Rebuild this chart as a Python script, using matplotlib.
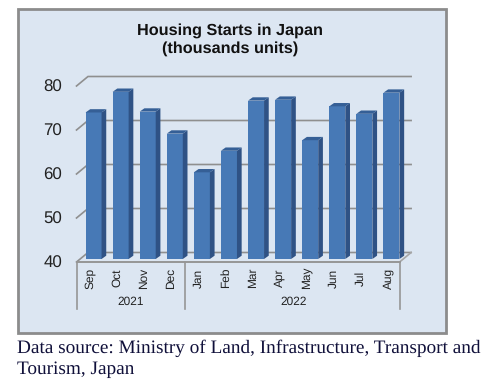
import matplotlib.pyplot as plt
from matplotlib.patches import Rectangle, Polygon

W, H = 493, 382

months = ["Sep", "Oct", "Nov", "Dec", "Jan", "Feb", "Mar", "Apr", "May", "Jun", "Jul", "Aug"]
values = [73.3, 78.0, 73.5, 68.5, 59.7, 64.6, 76.0, 76.2, 67.0, 74.7, 73.0, 77.8]
years = ["2021", "2022"]
year_spans = [(0, 4), (4, 12)]
y_ticks = [40, 50, 60, 70, 80]

plt.rcParams["font.family"] = ["Liberation Sans", "DejaVu Sans"]
plt.rcParams["text.hinting"] = "no_hinting"

fig = plt.figure(figsize=(W / 100, H / 100), dpi=100, facecolor="white")

# panel behind the chart, in pixels of the image
bg = fig.add_axes([0, 0, 1, 1])
bg.set_xlim(0, W)
bg.set_ylim(H, 0)
bg.axis("off")
bg.add_patch(Rectangle((18, 9), 428, 324, fc="#dce6f2", ec="#8c8c8c", lw=2.0))
bg.text(230, 31, "Housing Starts in Japan", ha="center", va="center",
        fontsize=11.7, fontweight="bold", color="#111111")
bg.text(230, 49, "(thousands units)", ha="center", va="center",
        fontsize=11.7, fontweight="bold", color="#111111")
bg.text(17, 348, "Data source: Ministry of Land, Infrastructure, Transport and",
        ha="left", va="center", fontsize=13.9, family="Liberation Serif", color="#10103a")
bg.text(17, 369, "Tourism, Japan",
        ha="left", va="center", fontsize=13.9, family="Liberation Serif", color="#10103a")

# front plane of the 3d box
left, right, top, bottom = 76.5, 401.5, 86, 262
ax = fig.add_axes([left / W, 1 - bottom / H, (right - left) / W, (bottom - top) / H])
ax.set_xlim(0, 12)
ax.set_ylim(40, 80)
ax.axis("off")
ax.patch.set_alpha(0)

px_x = 12 / (right - left)
px_y = 40 / (bottom - top)

# back wall grid
back_x, back_y = 11.5 * px_x, 9.5 * px_y
grid_c = "#8f8f8f"
for v in y_ticks:
    ax.plot([0, back_x, 12 + back_x - 0.07], [v, v + back_y, v + back_y],
            color=grid_c, lw=1.2, clip_on=False, zorder=1, solid_joinstyle="miter")
    ax.text(-14.5 * px_x, v - 1.5 * px_y, str(v), ha="right", va="center", fontsize=12.2,
            color="#222222", clip_on=False)
ax.plot([11.93, 11.93 + back_x], [40, 40 + back_y], color="#a6a6a6", lw=1.2, clip_on=False, zorder=1)

# bars, sitting a little behind the front edge
off_x, off_y = 3.5 * px_x, 3 * px_y
side_x, side_y = 4.7 * px_x, 3.3 * px_y
bar_w = 16 * px_x
for i, v in enumerate(values):
    x0 = i + 0.5 + off_x - bar_w / 2
    x1 = x0 + bar_w
    y0 = 40 + off_y
    y1 = v + off_y
    ax.bar(x0, y1 - y0, bottom=y0, width=bar_w, align="edge", color="#4779b6", zorder=3, clip_on=False)
    ax.add_patch(Polygon([(x1, y0), (x1 + side_x, y0 + side_y), (x1 + side_x, y1 + side_y), (x1, y1)],
                         fc="#2f5285", ec="none", zorder=3, clip_on=False))
    ax.add_patch(Polygon([(x0, y1), (x0 + side_x, y1 + side_y), (x1 + side_x, y1 + side_y), (x1, y1)],
                         fc="#355f96", ec="none", zorder=3, clip_on=False))
    ax.text(i + 0.5, 40 - 16 * px_y, months[i], rotation=90, ha="center", va="center",
            fontsize=8.6, color="#222222", clip_on=False)

# floor front edge and the multi level category axis
axis_c = "#969696"
ax.plot([0, 11.93], [40, 40], color=axis_c, lw=1.4, clip_on=False, zorder=4)
axis_low = 40 - 47 * px_y
for sep in [0, 4, 11.93]:
    ax.plot([sep, sep], [40, axis_low], color=axis_c, lw=1.2, clip_on=False, zorder=4)
for name, (a, b) in zip(years, year_spans):
    ax.text((a + b) / 2, 40 - 40 * px_y, name, ha="center", va="center",
            fontsize=8.6, color="#222222", clip_on=False)

fig.savefig("out.png", dpi=100)
